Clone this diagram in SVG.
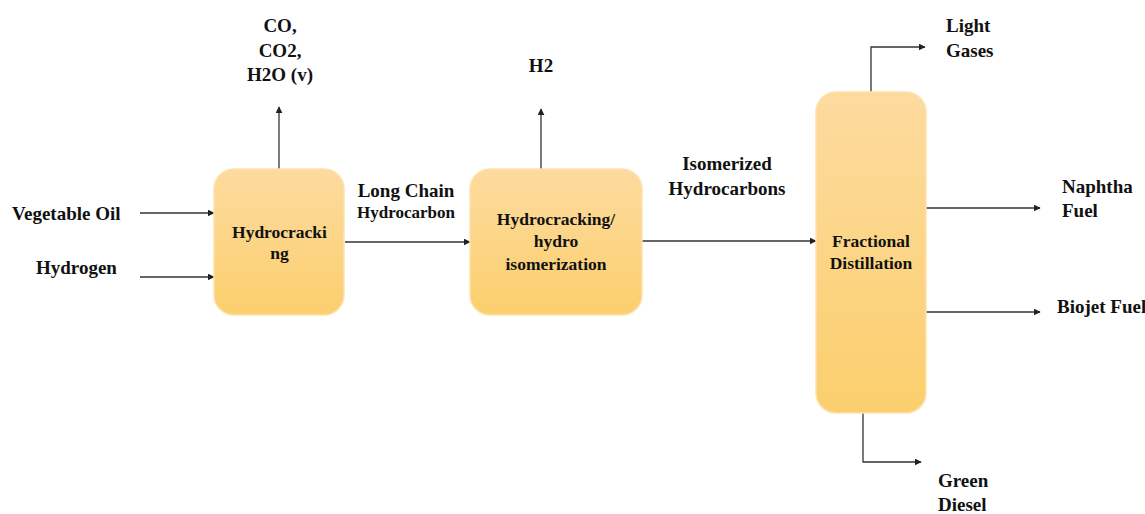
<svg xmlns="http://www.w3.org/2000/svg" width="1145" height="514" viewBox="0 0 1145 514">
<defs>
<linearGradient id="g" x1="0" y1="0" x2="0" y2="1">
<stop offset="0" stop-color="#fddb9f"/>
<stop offset="1" stop-color="#fbcf6d"/>
</linearGradient>
<marker id="a" viewBox="0 0 10 10" refX="9" refY="5" markerWidth="7" markerHeight="7" markerUnits="userSpaceOnUse" orient="auto">
<path d="M0,0 L10,5 L0,10 z" fill="#222"/>
</marker>
<style>
.box{fill:url(#g);stroke:#fde2ae;stroke-width:1.5}
.t{font-family:"Liberation Serif","Times New Roman",serif;font-weight:bold;font-size:19px;fill:#111}
.bt{font-family:"Liberation Serif","Times New Roman",serif;font-weight:bold;font-size:17.5px;fill:#111;text-anchor:middle}
.c{text-anchor:middle}
.ln{fill:none;stroke:#333;stroke-width:1.3;marker-end:url(#a)}
</style>
</defs>
<rect width="1145" height="514" fill="#fff"/>
<g id="connectors">
<path class="ln" d="M140,213 H214"/>
<path class="ln" d="M140,277 H214"/>
<path class="ln" d="M279,169 V107"/>
<path class="ln" d="M345,242 H470"/>
<path class="ln" d="M541,169 V109"/>
<path class="ln" d="M642,241 H816"/>
<path class="ln" d="M871,92 V47 H925"/>
<path class="ln" d="M926,208 H1040"/>
<path class="ln" d="M926,312 H1040"/>
<path class="ln" d="M863,413 V462 H921"/>
</g>
<g id="hydrocracking">
<rect class="box" x="214" y="169" width="130" height="146" rx="20"/>
<text class="bt" x="279.5" y="238">Hydrocracki</text>
<text class="bt" x="279.5" y="259">ng</text>
</g>
<g id="hydroisomerization">
<rect class="box" x="470" y="169" width="172" height="146" rx="20"/>
<text class="bt" x="556" y="225">Hydrocracking/</text>
<text class="bt" x="556" y="247">hydro</text>
<text class="bt" x="556" y="270">isomerization</text>
</g>
<g id="distillation">
<rect class="box" x="816" y="92" width="110" height="321" rx="20"/>
<text class="bt" x="871" y="247">Fractional</text>
<text class="bt" x="871" y="269">Distillation</text>
</g>
<g id="labels">
<text class="t" x="12" y="220">Vegetable Oil</text>
<text class="t" x="36" y="274">Hydrogen</text>
<text class="t c" x="280" y="32">CO,</text>
<text class="t c" x="280" y="57">CO2,</text>
<text class="t c" x="280" y="81">H2O (v)</text>
<text class="t c" x="406" y="197">Long Chain</text>
<text class="t c" x="406" y="218" style="font-size:17px">Hydrocarbon</text>
<text class="t c" x="541" y="72">H2</text>
<text class="t c" x="727" y="170">Isomerized</text>
<text class="t c" x="727" y="195">Hydrocarbons</text>
<text class="t" x="946" y="32">Light</text>
<text class="t" x="946" y="57">Gases</text>
<text class="t" x="1062" y="193">Naphtha</text>
<text class="t" x="1062" y="217">Fuel</text>
<text class="t" x="1057" y="313">Biojet Fuel</text>
<text class="t" x="938" y="487">Green</text>
<text class="t" x="938" y="511">Diesel</text>
</g>
</svg>
